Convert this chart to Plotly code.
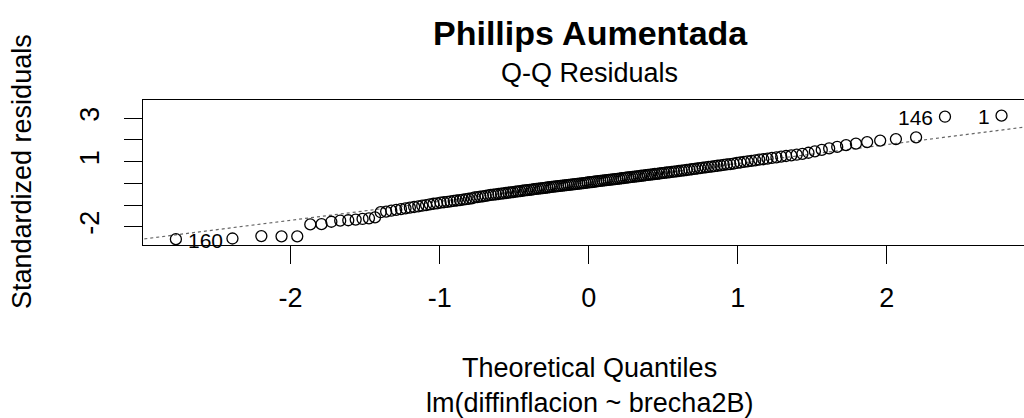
import numpy as np
import plotly.graph_objects as go
from statistics import NormalDist

# Sorted standardized residuals (n = 178)
residuals = [
    -2.57, -2.54, -2.43, -2.44, -2.44, -1.89, -1.88, -1.77, -1.72, -1.70,
    -1.67, -1.64, -1.61, -1.57, -1.33, -1.30, -1.26, -1.22, -1.19, -1.15,
    -1.12, -1.09, -1.06, -1.03, -1.00, -0.97, -0.94, -0.92, -0.89, -0.87,
    -0.85, -0.83, -0.81, -0.79, -0.77, -0.75, -0.73, -0.71, -0.69, -0.65,
    -0.63, -0.615, -0.60, -0.575, -0.55, -0.535, -0.52, -0.505, -0.49, -0.475,
    -0.46, -0.445, -0.43, -0.415, -0.40, -0.385, -0.37, -0.355, -0.34, -0.325,
    -0.31, -0.30, -0.285, -0.27, -0.255, -0.245, -0.23, -0.22, -0.205, -0.19,
    -0.18, -0.165, -0.155, -0.14, -0.13, -0.12, -0.105, -0.095, -0.08, -0.07,
    -0.06, -0.045, -0.035, -0.02, -0.01, 0.00, 0.015, 0.025, 0.04, 0.05,
    0.06, 0.075, 0.085, 0.10, 0.11, 0.125, 0.135, 0.15, 0.16, 0.17,
    0.185, 0.195, 0.21, 0.22, 0.235, 0.245, 0.26, 0.27, 0.285, 0.295,
    0.31, 0.32, 0.335, 0.35, 0.36, 0.375, 0.39, 0.40, 0.415, 0.43,
    0.44, 0.455, 0.47, 0.485, 0.50, 0.51, 0.525, 0.54, 0.555, 0.57,
    0.585, 0.60, 0.615, 0.635, 0.65, 0.67, 0.685, 0.70, 0.72, 0.735,
    0.755, 0.77, 0.79, 0.81, 0.83, 0.85, 0.87, 0.89, 0.91, 0.94,
    0.96, 0.99, 1.01, 1.04, 1.06, 1.09, 1.11, 1.14, 1.17, 1.20,
    1.23, 1.26, 1.29, 1.32, 1.36, 1.41, 1.47, 1.54, 1.61, 1.68,
    1.76, 1.83, 1.90, 1.97, 2.04, 2.12, 3.07, 3.12,
]
# Observation ids of the labelled extreme points: (rank in sorted order, id)
labelled_ranks = [0, 176, 177]
labelled_ids = ["160", "146", "1"]
label_sides = ["right", "left", "left"]

x_ticks = [-2, -1, 0, 1, 2]
y_ticks = [-2, -1, 0, 1, 2, 3]
y_ticktext = ["-2", "", "", "1", "", "3"]

title_text = "Phillips Aumentada"
subtitle_text = "Q-Q Residuals"
xlab_text = "Theoretical Quantiles"
caption_text = "lm(diffinflacion ~ brecha2B)"
ylab_text = "Standardized residuals"

n = len(residuals)
nd = NormalDist()
theo = [nd.inv_cdf((i + 0.5) / n) for i in range(n)]

# qqline through the quartiles
r = np.array(residuals)
yq = np.quantile(r, [0.25, 0.75])
xq = np.array([nd.inv_cdf(0.25), nd.inv_cdf(0.75)])
slope = (yq[1] - yq[0]) / (xq[1] - xq[0])
intercept = yq[0] - slope * xq[0]
line_x = np.array([-3.5, 3.5])
line_y = intercept + slope * line_x

W, H = 1024, 418
L, R, T, B = 143, 0, 100, 173
pw, ph = W - L - R, H - T - B


def px(x):
    return (x - L) / pw


def py(y):
    return (H - B - y) / ph


FONT = "Liberation Sans, Arial, sans-serif"

fig = go.Figure()
fig.add_trace(go.Scatter(
    x=line_x, y=line_y, mode="lines",
    line=dict(color="#666666", width=1.2, dash="dot"),
    hoverinfo="skip", showlegend=False,
))
fig.add_trace(go.Scatter(
    x=theo, y=residuals, mode="markers",
    marker=dict(symbol="circle-open", size=11, color="black",
                line=dict(color="black", width=1.3)),
    showlegend=False,
))

annotations = []
for rank, lab, side in zip(labelled_ranks, labelled_ids, label_sides):
    annotations.append(dict(
        x=theo[rank], y=residuals[rank], xref="x", yref="y",
        text=lab, showarrow=False,
        xanchor="left" if side == "right" else "right",
        xshift=10 if side == "right" else -10, yshift=-1,
        font=dict(family=FONT, size=21, color="black"),
    ))

annotations += [
    dict(x=px(590), y=py(33), xref="paper", yref="paper", text="<b>" + title_text + "</b>",
         showarrow=False, xanchor="center", yanchor="middle",
         font=dict(family=FONT, size=34, color="black")),
    dict(x=px(589), y=py(73), xref="paper", yref="paper", text=subtitle_text,
         showarrow=False, xanchor="center", yanchor="middle",
         font=dict(family=FONT, size=27, color="black")),
    dict(x=px(589), y=py(368), xref="paper", yref="paper", text=xlab_text,
         showarrow=False, xanchor="center", yanchor="middle",
         font=dict(family=FONT, size=27, color="black")),
    dict(x=px(589), y=py(403), xref="paper", yref="paper", text=caption_text,
         showarrow=False, xanchor="center", yanchor="middle",
         font=dict(family=FONT, size=27, color="black")),
    dict(x=px(22), y=py(172), xref="paper", yref="paper", text=ylab_text,
         showarrow=False, xanchor="center", yanchor="middle", textangle=-90,
         font=dict(family=FONT, size=27, color="black")),
]

fig.update_layout(
    width=W, height=H,
    margin=dict(l=L, r=R, t=T, b=B, pad=0),
    paper_bgcolor="white", plot_bgcolor="white",
    showlegend=False,
    annotations=annotations,
    xaxis=dict(
        range=[-2.99, 2.92], showgrid=False, zeroline=False,
        showline=True, linecolor="black", linewidth=1, mirror=True,
        ticks="outside", ticklen=18, tickwidth=1, tickcolor="black",
        tickvals=x_ticks, ticktext=[str(v) for v in x_ticks],
        tickfont=dict(family=FONT, size=27, color="black"),
        ticklabelstandoff=11,
    ),
    yaxis=dict(
        range=[-2.84, 3.84], showgrid=False, zeroline=False,
        showline=True, linecolor="black", linewidth=1, mirror=False,
        ticks="outside", ticklen=18, tickwidth=1, tickcolor="black",
        tickvals=y_ticks, ticktext=y_ticktext, tickangle=-90,
        tickfont=dict(family=FONT, size=27, color="black"),
        ticklabelstandoff=14,
    ),
)

fig.write_html(
    "out.html",
    config={"displayModeBar": False},
    post_script="document.body.style.margin='0';document.body.style.overflow='hidden';",
)
